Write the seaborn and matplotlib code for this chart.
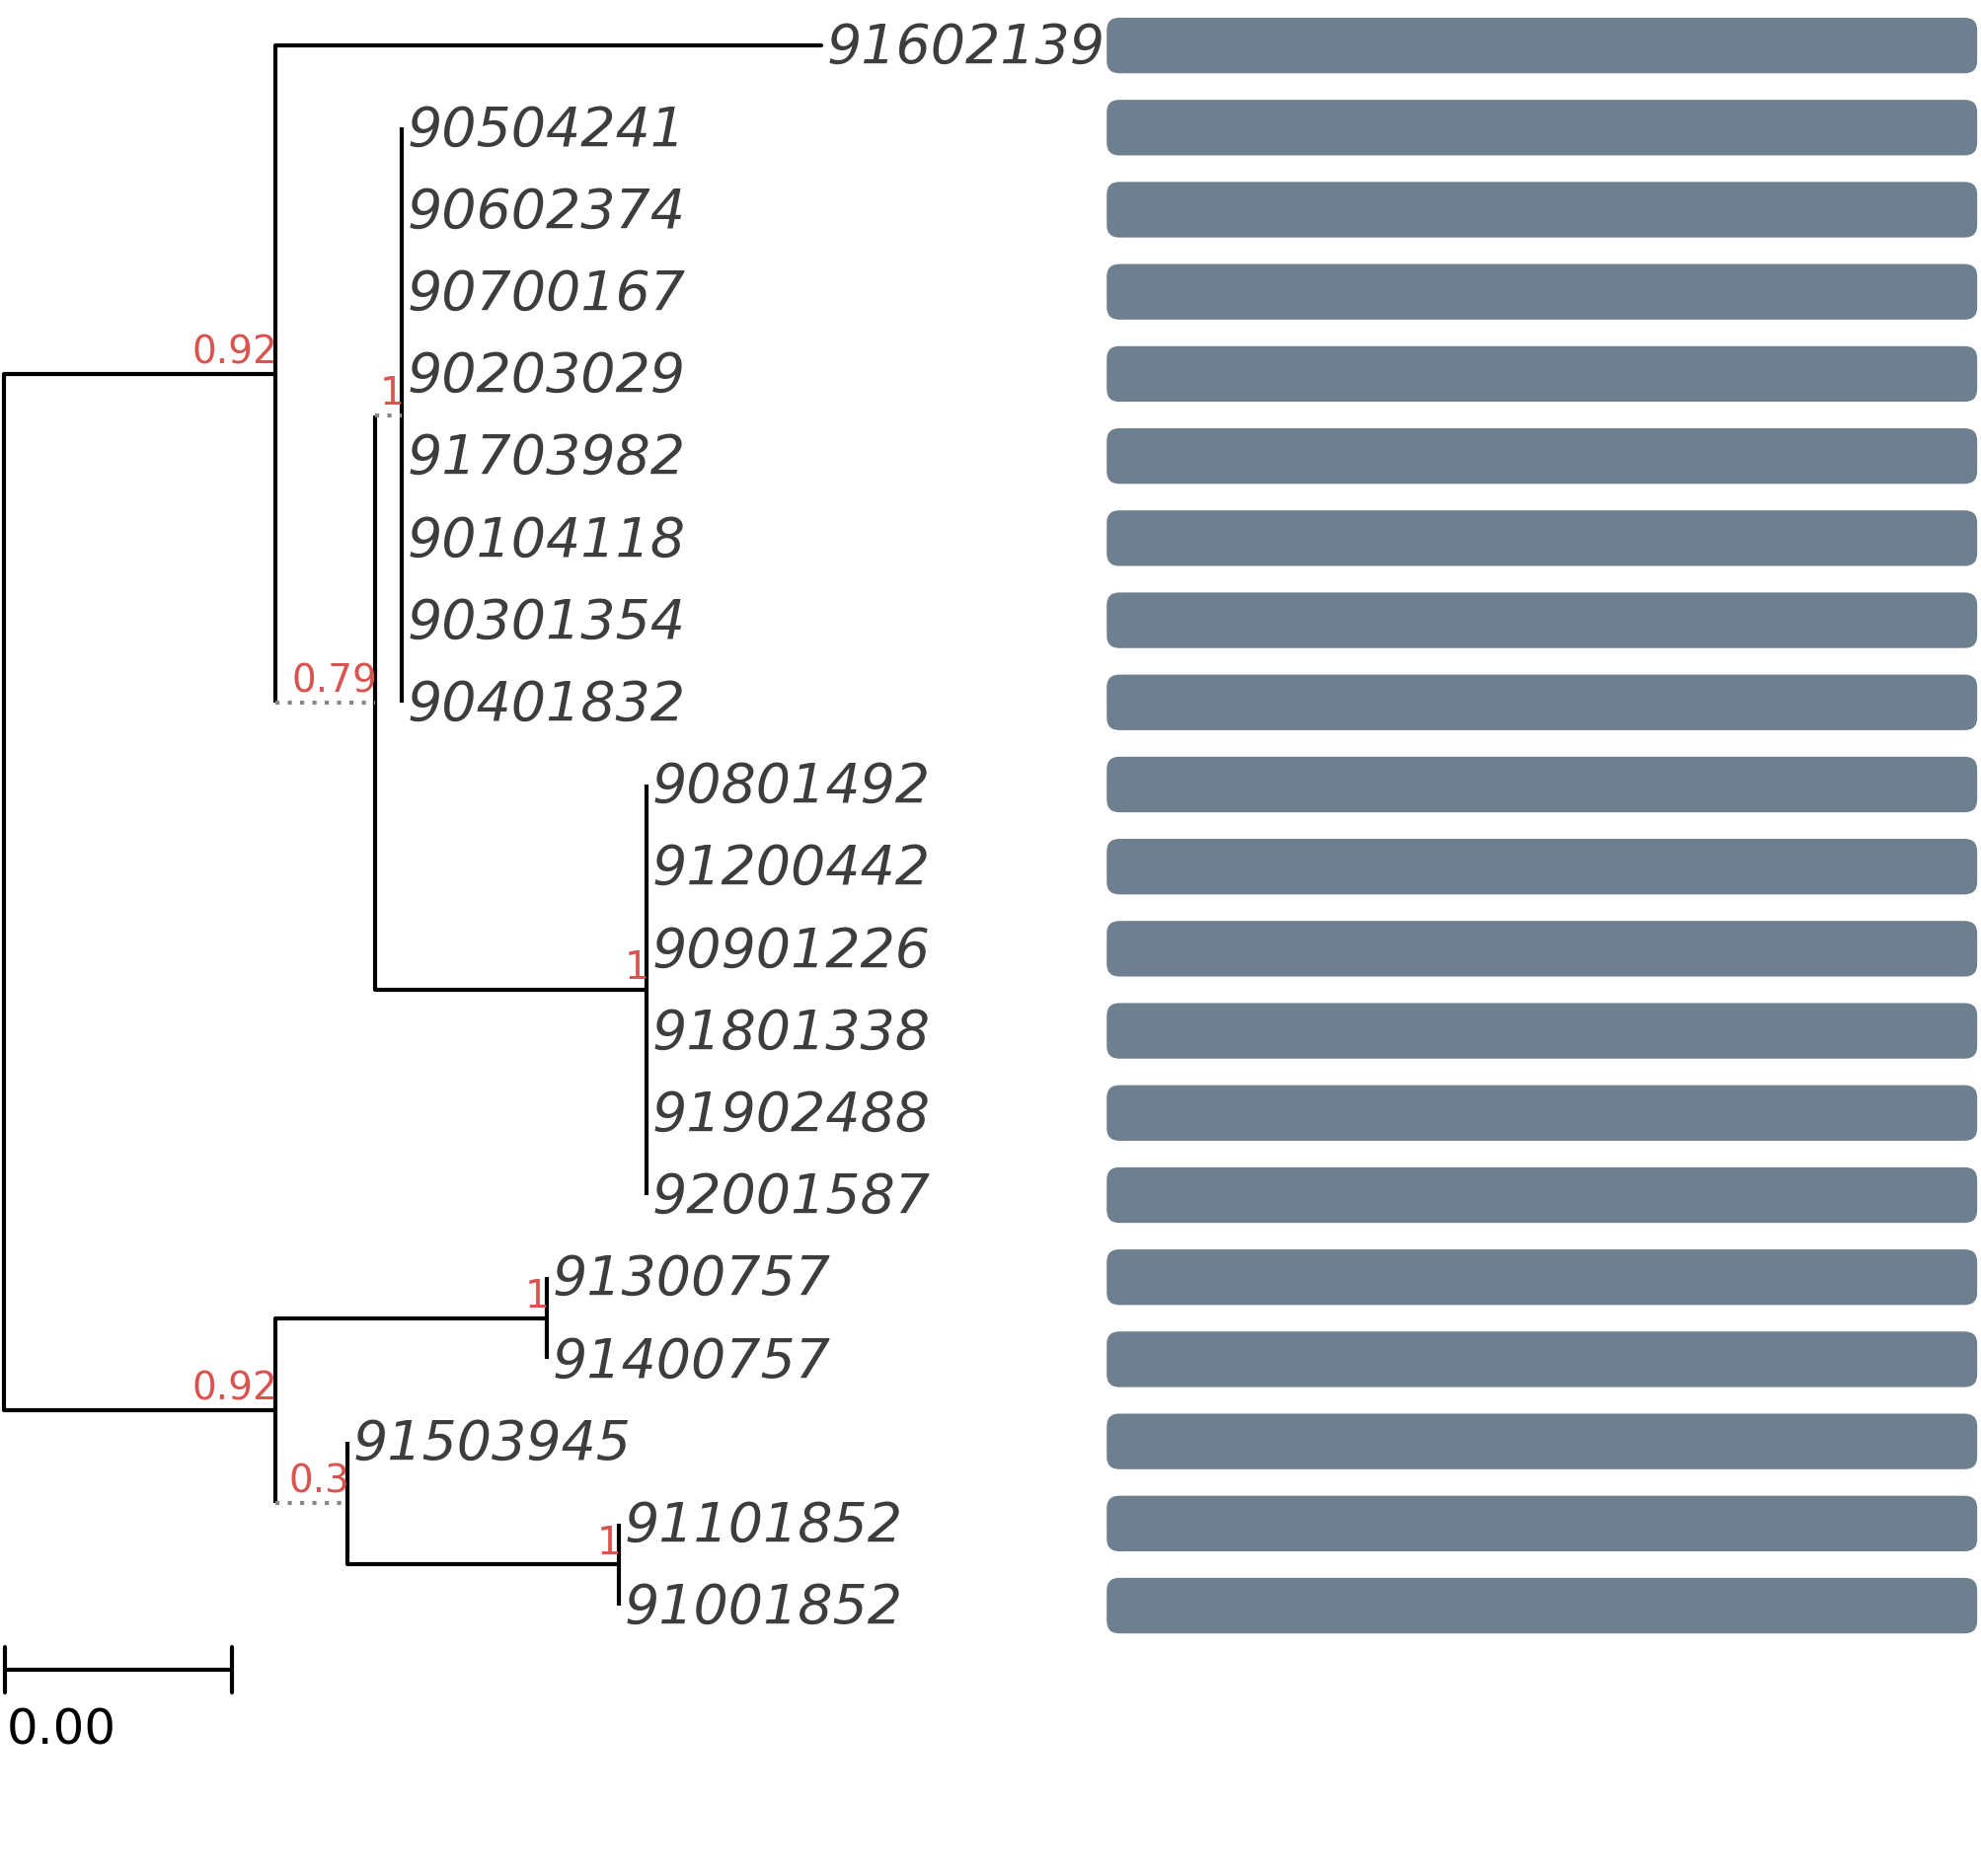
import matplotlib
matplotlib.use("Agg")
import matplotlib.pyplot as plt
import seaborn as sns
from matplotlib.patches import FancyBboxPatch

sns.set_style("white")

leaves = ["91602139","90504241","90602374","90700167","90203029","91703982","90104118",
          "90301354","90401832","90801492","91200442","90901226","91801338","91902488",
          "92001587","91300757","91400757","91503945","91101852","91001852"]
# internal nodes: name -> (depth, parent, support, dotted branch)
nodes = {
    "root": (0.0, None, None, False),
    "A": (1.0, "root", "0.92", False),
    "B": (1.367, "A", "0.79", True),
    "C": (1.465, "B", "1", True),
    "D": (2.367, "B", "1", False),
    "E": (1.0, "root", "0.92", False),
    "F": (2.0, "E", "1", False),
    "G": (1.265, "E", "0.3", True),
    "H": (2.265, "G", "1", False),
}
leaf_parent = ["A"] + ["C"]*8 + ["D"]*6 + ["F"]*2 + ["G"] + ["H"]*2
leaf_depth = [3.01] + [1.465]*8 + [2.367]*6 + [2.0]*2 + [1.265] + [2.265]*2
scale_len = 0.84

PX = 215.0; X0 = 3.0
def X(d): return X0 + d*PX
row_y = [36 + 65*i for i in range(len(leaves))]

children = {n: [] for n in nodes}
for n, v in nodes.items():
    if v[1]: children[v[1]].append(n)
ny = {}
def gety(n):
    if n in ny: return ny[n]
    ys = [row_y[i] for i, p in enumerate(leaf_parent) if p == n] + [gety(c) for c in children[n]]
    ny[n] = (min(ys) + max(ys)) / 2
    ny[n+"_lo"] = min(ys); ny[n+"_hi"] = max(ys)
    return ny[n]
gety("root")

fig = plt.figure(figsize=(20.07, 19.01), dpi=100)
ax = fig.add_axes([0, 0, 1, 1])
ax.set_xlim(0, 1568); ax.set_ylim(1485, 0); ax.axis("off")
lw = 3.0
for n, (d, p, sup, dot) in nodes.items():
    ax.plot([X(d), X(d)], [ny[n+"_lo"], ny[n+"_hi"]], color="black", lw=lw, solid_capstyle="butt")
    if p:
        pd = nodes[p][0]
        if dot:
            ax.plot([X(pd), X(d)], [ny[n], ny[n]], color="#888888", lw=lw, ls=(0, (1, 2)))
        else:
            ax.plot([X(pd), X(d)], [ny[n], ny[n]], color="black", lw=lw)
        ax.text(X(d)+2, ny[n]-2, sup, color="#d9534f", fontsize=28, ha="right", va="bottom")
for i, name in enumerate(leaves):
    pd = nodes[leaf_parent[i]][0]
    if leaf_depth[i] > pd:
        ax.plot([X(pd), X(leaf_depth[i])], [row_y[i], row_y[i]], color="black", lw=lw)
    ax.text(X(leaf_depth[i]) + 4, row_y[i] + 2, name, fontsize=40, style="italic",
            color="#3d3d3d", ha="left", va="center")
    ax.add_patch(FancyBboxPatch((880, row_y[i]-18), 681, 36,
                                boxstyle="round,pad=4,rounding_size=10",
                                fc="#6e7f8f", ec="none"))
ax.plot([X(0)+1, X(scale_len)], [1322, 1322], color="black", lw=lw)
for xx in [X(0)+1, X(scale_len)]:
    ax.plot([xx, xx], [1304, 1340], color="black", lw=lw)
ax.text(5, 1370, "0.00", fontsize=36, ha="left", va="center", color="black")
fig.savefig("out.png", dpi=100)
